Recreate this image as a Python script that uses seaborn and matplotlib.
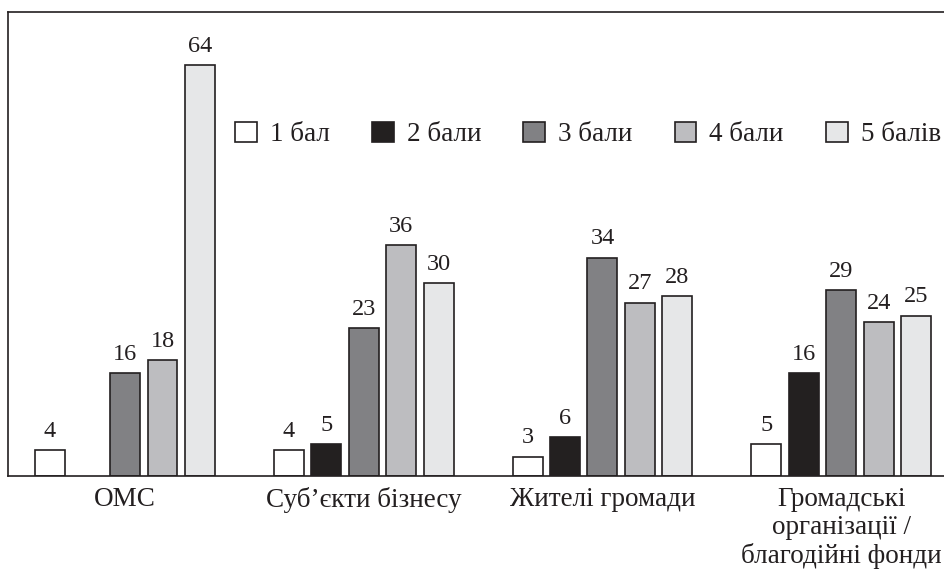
import numpy as np
import pandas as pd
import matplotlib
matplotlib.use("Agg")
import matplotlib.pyplot as plt
import seaborn as sns

# --- data ---
groups = ["ОМС", "Суб’єкти бізнесу", "Жителі громади",
          "Громадські\nорганізації /\nблагодійні фонди"]
scores = ["1 бал", "2 бали", "3 бали", "4 бали", "5 балів"]
score_1 = [4, 4, 3, 5]
score_2 = [np.nan, 5, 6, 16]   # no bar for ОМС
score_3 = [16, 23, 34, 29]
score_4 = [18, 36, 27, 24]
score_5 = [64, 30, 28, 25]

colors = ["#ffffff", "#231f20", "#808184", "#bcbdc0", "#e6e7e8"]

wide = pd.DataFrame(dict(zip(scores, [score_1, score_2, score_3, score_4, score_5])),
                    index=groups)
df = wide.reset_index(names="group").melt(id_vars="group", var_name="score", value_name="value")
df = df.dropna()

sns.set_style("white")
plt.rcParams["font.family"] = ["Liberation Serif", "DejaVu Serif"]

fig = plt.figure(figsize=(9.45, 5.7), dpi=100)
ax = fig.add_axes([0.0085, 0.165, 1.008, 0.814])

sns.barplot(data=df, x="group", y="value", hue="score", order=groups, hue_order=scores,
            palette=colors, width=0.785, gap=0.2, edgecolor="#231f20", linewidth=1.2,
            errorbar=None, ax=ax)

for cont in ax.containers:
    ax.bar_label(cont, fmt="{:.0f}", padding=6, fontsize=17.5, color="#231f20")

ax.set_ylim(0, 72.3)
ax.set_xlim(-0.49, 3.5)
ax.set_xlabel("")
ax.set_ylabel("")
ax.set_yticks([])
ax.tick_params(axis="x", length=0, pad=8, labelsize=19.5, colors="#231f20")
for lbl in ax.get_xticklabels():
    lbl.set_linespacing(1.15)
for s in ax.spines.values():
    s.set_color("#231f20")
    s.set_linewidth(1.2)

ax.legend(loc="center left", bbox_to_anchor=(0.2487, 0.764), bbox_transform=fig.transFigure,
          ncol=5, frameon=False, fontsize=19.5, handlelength=0.81, handleheight=0.81,
          handletextpad=0.48, columnspacing=1.55, borderpad=0, borderaxespad=0,
          labelcolor="#231f20")

fig.savefig("out.png", dpi=100)
